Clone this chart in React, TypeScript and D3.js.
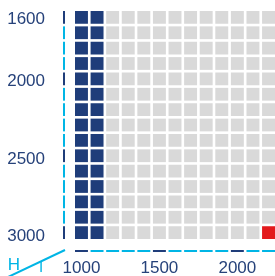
import React from "react";
import * as d3 from "d3";

const xCategories = [1000, 1100, 1200, 1300, 1400, 1500, 1600, 1700, 1800, 1900, 2000, 2100, 2200];
const yCategories = [1600, 1700, 1800, 1900, 2000, 2100, 2200, 2300, 2400, 2500, 2600, 2700, 2800, 2900, 3000];
const filledColumns = [1000, 1100];
const markedCells: [number, number][] = [[2200, 3000]];
const xTickLabels = [1000, 1500, 2000];
const yTickLabels = [1600, 2000, 2500, 3000];
const xAxisTitle = "I";
const yAxisTitle = "H";

const W = 275;
const H = 276;
const NAVY = "#1f3d7a";
const TEXT = "#26427a";
const CYAN = "#00b5e5";
const GRAY = "#d9d9d9";
const RED = "#e31a1c";
const FONT = "'Liberation Sans', Arial, sans-serif";

export default function App() {
  const x = d3.scaleBand<number>().domain(xCategories).range([75, 275]).paddingInner(0.17).paddingOuter(0);
  const y = d3.scaleBand<number>().domain(yCategories).range([11, 239]).paddingInner(0.17).paddingOuter(0);
  const yLab = d3.scaleLinear().domain([1600, 3000]).range([17.8, 235.3]);

  const axisX = 64;
  const axisY = 251;

  const cellColor = (cx: number, cy: number) => {
    if (markedCells.some(([a, b]) => a === cx && b === cy)) return RED;
    if (filledColumns.includes(cx)) return NAVY;
    return GRAY;
  };

  return (
    <svg width={W} height={H} style={{ position: "fixed", left: 0, top: 0 }} fontFamily={FONT}>
      {yCategories.map((cy) =>
        xCategories.map((cx) => (
          <rect
            key={`${cx}-${cy}`}
            x={x(cx)}
            y={y(cy)}
            width={x.bandwidth()}
            height={y.bandwidth()}
            fill={cellColor(cx, cy)}
          />
        ))
      )}
      {yCategories.map((cy) => (
        <rect
          key={`yt-${cy}`}
          x={axisX - 1}
          y={y(cy)}
          width={2}
          height={y.bandwidth()}
          fill={yTickLabels.includes(cy) ? NAVY : CYAN}
        />
      ))}
      {xCategories.map((cx) => (
        <rect
          key={`xt-${cx}`}
          x={x(cx)}
          y={axisY - 1}
          width={x.bandwidth()}
          height={2}
          fill={xTickLabels.includes(cx) ? NAVY : CYAN}
        />
      ))}
      {yTickLabels.map((v) => (
        <text key={`yl-${v}`} x={45} y={yLab(v)} dy="0.36em" textAnchor="end" fontSize={17} fill={TEXT}>
          {v}
        </text>
      ))}
      {xTickLabels.map((v) => (
        <text
          key={`xl-${v}`}
          x={(x(v) as number) + x.bandwidth() / 2}
          y={273.3}
          textAnchor="middle"
          fontSize={17}
          fill={TEXT}
        >
          {v}
        </text>
      ))}
      <line x1={axisX + 1} y1={axisY - 1} x2={8} y2={277} stroke={CYAN} strokeWidth={2} />
      <text x={14} y={270} textAnchor="middle" fontSize={17} fill={CYAN}>
        {yAxisTitle}
      </text>
      <text x={41} y={272} textAnchor="middle" fontSize={15} fill={CYAN}>
        {xAxisTitle}
      </text>
    </svg>
  );
}
